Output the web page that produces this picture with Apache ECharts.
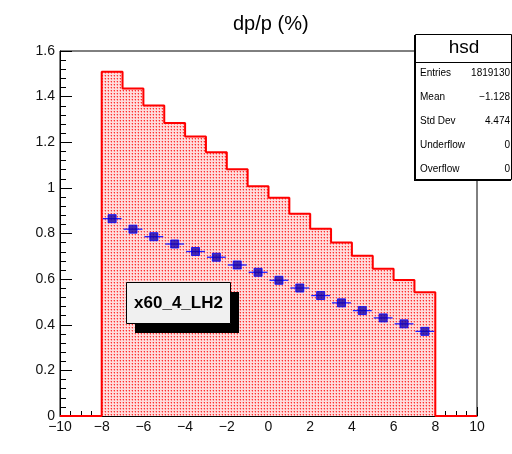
<!DOCTYPE html>
<html><head><meta charset="utf-8">
<script src="https://cdn.jsdelivr.net/npm/echarts@6/dist/echarts.min.js"></script>
<style>html,body{margin:0;padding:0;background:#fff}#c{width:512px;height:454px}</style>
</head><body><div id="c"></div>
<script>
// ---- data ----
const binEdges = [-8,-7,-6,-5,-4,-3,-2,-1,0,1,2,3,4,5,6,7,8];
const histValues = [1.509,1.436,1.361,1.284,1.225,1.156,1.082,1.007,0.957,0.887,0.821,0.761,0.702,0.645,0.596,0.543];
const markerValues = [0.865,0.819,0.786,0.754,0.721,0.696,0.662,0.630,0.595,0.561,0.528,0.496,0.462,0.430,0.404,0.371];
const xRange = [-10, 10];
const yRange = [0, 1.6];
const chartTitle = 'dp/p (%)';
const statsTitle = 'hsd';
const statsLabels = ['Entries','Mean','Std Dev','Underflow','Overflow'];
const statsValues = ['1819130','\u22121.128','4.474','0','0'];
const boxLabel = 'x60_4_LH2';

// ---- build series data ----
const histLine = [[xRange[0],0],[binEdges[0],0]];
for (let i=0;i<histValues.length;i++){
  histLine.push([binEdges[i],histValues[i]]);
  histLine.push([binEdges[i+1],histValues[i]]);
}
histLine.push([binEdges[binEdges.length-1],0]);
histLine.push([xRange[1],0]);
const markers = markerValues.map((v,i)=>[(binEdges[i]+binEdges[i+1])/2, v, binEdges[i], binEdges[i+1]]);

// pattern fill
const tile = document.createElement('canvas');
tile.width = 3; tile.height = 3;
const tc = tile.getContext('2d');
tc.fillStyle = '#ffdcdc'; tc.fillRect(0,0,3,3);
tc.fillStyle = '#ff3030'; tc.fillRect(0,0,1,1);
tc.fillStyle = '#ff9090'; tc.fillRect(0,1,1,1);
tc.fillStyle = '#ffa8a8'; tc.fillRect(2,0,1,1);

const FONT = '"Liberation Sans", Arial, Helvetica, sans-serif';
const chart = echarts.init(document.getElementById('c'), null, {renderer:'canvas'});

const statsChildren = [
  {type:'rect', shape:{x:414,y:35,width:97,height:146}, style:{fill:'#000'}, z:10},
  {type:'rect', shape:{x:415.5,y:34.5,width:96,height:145}, style:{fill:'#fff',stroke:'#000',lineWidth:1}, z:11},
  {type:'line', shape:{x1:415,y1:62.5,x2:512,y2:62.5}, style:{stroke:'#000',lineWidth:1}, z:12},
  {type:'text', x:464, y:48, style:{text:statsTitle, font:'19px '+FONT, fill:'#000', textAlign:'center', textVerticalAlign:'middle'}, z:12}
];
const rowY = [73,97,121,145,169];
statsLabels.forEach((l,i)=>{
  statsChildren.push({type:'text', x:420, y:rowY[i], style:{text:l, font:'10px '+FONT, fill:'#000', textAlign:'left', textVerticalAlign:'middle'}, z:12});
  statsChildren.push({type:'text', x:510, y:rowY[i], style:{text:statsValues[i], font:'10px '+FONT, fill:'#000', textAlign:'right', textVerticalAlign:'middle'}, z:12});
});

chart.setOption({
  animation:false,
  backgroundColor:'#fff',
  title:{text:chartTitle, left:228, top:9, textStyle:{fontFamily:FONT, fontSize:20, fontWeight:'normal', color:'#000'}},
  grid:{left:60, right:35, top:51, bottom:38, show:true, borderColor:'#000', borderWidth:1, backgroundColor:'transparent'},
  xAxis:{type:'value', min:xRange[0], max:xRange[1], interval:2,
    axisLine:{show:true, onZero:false, lineStyle:{color:'#000', width:1}},
    axisTick:{show:true, inside:true, length:9, lineStyle:{color:'#000'}},
    minorTick:{show:true, splitNumber:4, length:5, lineStyle:{color:'#000'}},
    splitLine:{show:false},
    axisLabel:{margin:4, fontFamily:FONT, fontSize:14, color:'#111', formatter:v=>String(v).replace('-','\u2212')}
  },
  yAxis:{type:'value', min:yRange[0], max:yRange[1], interval:0.2,
    axisLine:{show:true, onZero:false, lineStyle:{color:'#000', width:1}},
    axisTick:{show:true, inside:true, length:12, lineStyle:{color:'#000'}},
    minorTick:{show:true, splitNumber:5, length:6, lineStyle:{color:'#000'}},
    splitLine:{show:false},
    axisLabel:{margin:5, fontFamily:FONT, fontSize:14, color:'#111', formatter:v=>String(+v.toFixed(1))}
  },
  series:[
    {type:'line', data:histLine, showSymbol:false, symbol:'none',
     lineStyle:{color:'#ff0000', width:2}, areaStyle:{color:{image:tile, repeat:'repeat'}, opacity:1}, z:2},
    {type:'custom', data:markers, encode:{x:0,y:1}, z:3,
     renderItem:(params, api)=>{
       const y = api.value(1);
       const p1 = api.coord([api.value(2), y]);
       const p2 = api.coord([api.value(3), y]);
       return {type:'line', shape:{x1:p1[0]+1,y1:p1[1],x2:p2[0]-1,y2:p2[1]}, style:{stroke:'#2222ff', lineWidth:1.3}};
     }},
    {type:'scatter', data:markers.map(m=>[m[0],m[1]]), symbol:'rect', symbolSize:8,
     itemStyle:{color:'#1400a8', borderColor:'#0000ff', borderWidth:1}, z:4}
  ],
  graphic:[
    {type:'group', children:statsChildren, z:100},
    {type:'rect', shape:{x:135,y:292,width:104,height:41}, style:{fill:'#000'}, z:100},
    {type:'rect', shape:{x:126.5,y:282.5,width:104,height:41}, style:{fill:'#f0f0f0',stroke:'#000',lineWidth:1}, z:101},
    {type:'text', x:178.5, y:303.5, style:{text:boxLabel, font:'bold 17px '+FONT, fill:'#000', textAlign:'center', textVerticalAlign:'middle'}, z:102}
  ]
});
</script></body></html>
